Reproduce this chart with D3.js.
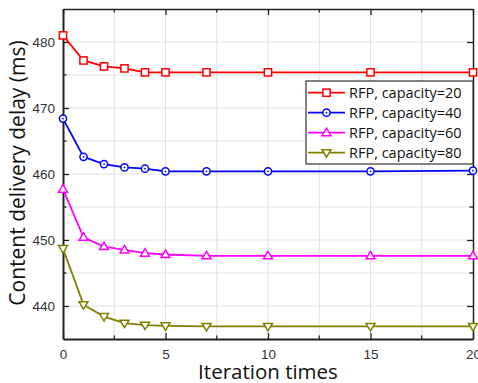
<!DOCTYPE html>
<html><head><meta charset="utf-8">
<script src="https://cdn.jsdelivr.net/npm/d3@7"></script>
<style>body{margin:0;background:#fff}svg{display:block}</style>
</head><body><svg id="c" width="478" height="383"></svg>
<script>
const iterations = [0, 1, 2, 3, 4, 5, 7, 10, 15, 20];
const cap20 = [481.0, 477.2, 476.3, 476.0, 475.4, 475.4, 475.4, 475.4, 475.4, 475.4];
const cap40 = [468.4, 462.6, 461.5, 461.0, 460.8, 460.4, 460.4, 460.4, 460.4, 460.5];
const cap60 = [457.7, 450.4, 449.0, 448.5, 448.0, 447.8, 447.6, 447.6, 447.6, 447.6];
const cap80 = [448.7, 440.2, 438.4, 437.4, 437.1, 437.0, 436.9, 436.9, 436.9, 436.9];
const seriesNames = ["RFP, capacity=20", "RFP, capacity=40", "RFP, capacity=60", "RFP, capacity=80"];
const xTicks = [0, 5, 10, 15, 20];
const yTicks = [440, 450, 460, 470, 480];

const series = [
  {name: seriesNames[0], vals: cap20, color: "#ff0000", marker: "square"},
  {name: seriesNames[1], vals: cap40, color: "#0000ff", marker: "circle"},
  {name: seriesNames[2], vals: cap60, color: "#ff00ff", marker: "up"},
  {name: seriesNames[3], vals: cap80, color: "#808000", marker: "down"}
];

const svg = d3.select("#c");
const L = 63, R = 473, T = 9, B = 339;
const x = d3.scaleLinear().domain([0, 20]).range([L, R]);
const y = d3.scaleLinear().domain([435, 485]).range([B, T]);

// grid
const gx = d3.range(0, 20.01, 2.5), gy = d3.range(435, 485.01, 5);
svg.append("g").selectAll("line").data(gx.slice(1, -1)).join("line")
  .attr("x1", d => x(d)).attr("x2", d => x(d)).attr("y1", T).attr("y2", B)
  .attr("stroke", "#e0e0e0").attr("stroke-width", 1);
svg.append("g").selectAll("line").data(gy.slice(1, -1)).join("line")
  .attr("y1", d => y(d)).attr("y2", d => y(d)).attr("x1", L).attr("x2", R)
  .attr("stroke", "#e0e0e0").attr("stroke-width", 1);

// axes
const font = "'Liberation Sans', Arial, sans-serif";
function styleAxis(g, w) {
  g.select(".domain").attr("stroke", "#222").attr("stroke-width", w);
  g.selectAll(".tick line").attr("stroke", "#222").attr("stroke-width", 1.3);
  g.selectAll(".tick text").attr("fill", "#333").attr("font-size", 13.5).attr("font-family", font);
}
const minorX = gx.filter(d => !xTicks.includes(d));
const minorY = gy.filter(d => !yTicks.includes(d) && d > 435 && d < 485);

const ax = svg.append("g").attr("transform", `translate(0,${B})`)
  .call(d3.axisBottom(x).tickValues(xTicks).tickSize(-6).tickSizeOuter(0).tickPadding(10));
styleAxis(ax, 2);
const axT = svg.append("g").attr("transform", `translate(0,${T})`)
  .call(d3.axisTop(x).tickValues(xTicks).tickSize(-6).tickSizeOuter(0).tickFormat(""));
styleAxis(axT, 1.5);
const ay = svg.append("g").attr("transform", `translate(${L},0)`)
  .call(d3.axisLeft(y).tickValues(yTicks).tickSize(-6).tickSizeOuter(0).tickPadding(8));
styleAxis(ay, 2);
const ayR = svg.append("g").attr("transform", `translate(${R},0)`)
  .call(d3.axisRight(y).tickValues(yTicks).tickSize(-6).tickSizeOuter(0).tickFormat(""));
styleAxis(ayR, 1.5);
// minor ticks
svg.append("g").selectAll("line").data(minorX).join("line")
  .attr("x1", d => x(d)).attr("x2", d => x(d)).attr("y1", B).attr("y2", B - 3.5).attr("stroke", "#222").attr("stroke-width", 1.3);
svg.append("g").selectAll("line").data(minorX).join("line")
  .attr("x1", d => x(d)).attr("x2", d => x(d)).attr("y1", T).attr("y2", T + 3.5).attr("stroke", "#222").attr("stroke-width", 1.3);
svg.append("g").selectAll("line").data(minorY).join("line")
  .attr("y1", d => y(d)).attr("y2", d => y(d)).attr("x1", L).attr("x2", L + 3.5).attr("stroke", "#222").attr("stroke-width", 1.3);
svg.append("g").selectAll("line").data(minorY).join("line")
  .attr("y1", d => y(d)).attr("y2", d => y(d)).attr("x1", R).attr("x2", R - 3.5).attr("stroke", "#222").attr("stroke-width", 1.3);

// markers
function drawMarker(g, type, cx, cy, color) {
  if (type === "square") {
    g.append("rect").attr("x", cx - 3.6).attr("y", cy - 3.6).attr("width", 7.2).attr("height", 7.2)
      .attr("fill", "#fff").attr("stroke", color).attr("stroke-width", 1.5);
  } else if (type === "circle") {
    g.append("circle").attr("cx", cx).attr("cy", cy).attr("r", 3.6)
      .attr("fill", "#fff").attr("stroke", color).attr("stroke-width", 1.5);
    g.append("circle").attr("cx", cx).attr("cy", cy).attr("r", 0.9).attr("fill", color);
  } else if (type === "up") {
    g.append("path").attr("d", `M${cx},${cy - 4.5}L${cx + 4.5},${cy + 3}L${cx - 4.5},${cy + 3}Z`)
      .attr("fill", "#fff").attr("stroke", color).attr("stroke-width", 1.5);
  } else {
    g.append("path").attr("d", `M${cx},${cy + 4.5}L${cx + 4.5},${cy - 3}L${cx - 4.5},${cy - 3}Z`)
      .attr("fill", "#fff").attr("stroke", color).attr("stroke-width", 1.5);
  }
}

const line = d3.line().x((d, i) => x(iterations[i])).y(d => y(d));
series.forEach(s => {
  svg.append("path").attr("d", line(s.vals)).attr("fill", "none")
    .attr("stroke", s.color).attr("stroke-width", 1.8);
  const g = svg.append("g");
  s.vals.forEach((v, i) => drawMarker(g, s.marker, x(iterations[i]), y(v), s.color));
});

// legend
const lg = svg.append("g");
lg.append("rect").attr("x", 306).attr("y", 81).attr("width", 167).attr("height", 83)
  .attr("fill", "#fff").attr("stroke", "#333").attr("stroke-width", 1.2);
series.forEach((s, i) => {
  const yy = 92.7 + i * 20;
  lg.append("line").attr("x1", 308).attr("x2", 345).attr("y1", yy).attr("y2", yy)
    .attr("stroke", s.color).attr("stroke-width", 1.8);
  drawMarker(lg, s.marker, 326.5, yy, s.color);
  lg.append("text").attr("x", 349).attr("y", yy + 5).text(s.name)
    .attr("font-family", "'Open Sans', sans-serif").attr("font-size", 14.5).attr("fill", "#111");
});

// titles
svg.append("text").attr("x", (L + R) / 2).attr("y", 379).attr("text-anchor", "middle")
  .attr("font-family", "'Open Sans', sans-serif").attr("font-size", 20.5).attr("fill", "#111")
  .text("Iteration times");
svg.append("text").attr("transform", `translate(25,${173}) rotate(-90)`).attr("text-anchor", "middle")
  .attr("font-family", "'Open Sans', sans-serif").attr("font-size", 21).attr("fill", "#111")
  .text("Content delivery delay (ms)");
</script></body></html>
